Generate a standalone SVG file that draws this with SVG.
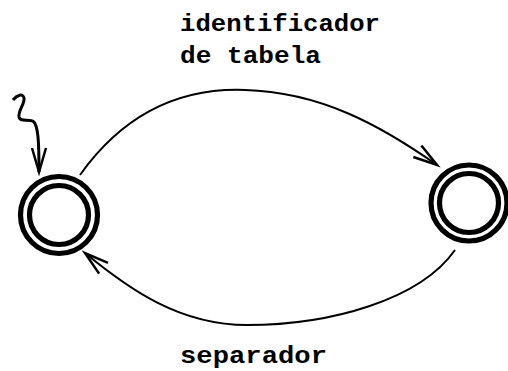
<svg xmlns="http://www.w3.org/2000/svg" width="508" height="371" viewBox="0 0 508 371">
<style>
.ring{fill:none;stroke:#000;stroke-width:5.2}
.edge{fill:none;stroke:#000;stroke-width:2}
.lbl{font-family:"Liberation Mono","DejaVu Sans Mono",monospace;font-size:24px;font-weight:bold;fill:#000}
</style>
<defs>
<marker id="ah" markerUnits="userSpaceOnUse" markerWidth="40" markerHeight="40" viewBox="-30 -15 40 30" refX="0" refY="0" orient="auto">
<path d="M-24,-7 L0,0 L-24,7" fill="none" stroke="#000" stroke-width="2.5"/>
</marker>
</defs>
<rect width="508" height="371" fill="#fff"/>
<g id="connectors">
<path class="edge" style="stroke-width:3" d="M13,100 C17,95 23,93 24,98 C25,104 18,110 19,117 C20,123 30,118 34,122 C38,127 39,140 39,172" marker-end="url(#ah)"/>
<path class="edge" d="M80,175 C130,105 190,88 245,90 C320,92 380,125 437,165" marker-end="url(#ah)"/>
<path class="edge" d="M455,250 C420,300 330,325 247,325 C180,325 130,290 85,253" marker-end="url(#ah)"/>
</g>
<g id="q0">
<circle class="ring" cx="59" cy="215" r="38.5"/>
<circle class="ring" cx="59" cy="215" r="29.5"/>
</g>
<g id="q1">
<circle class="ring" cx="469" cy="203" r="38"/>
<circle class="ring" cx="469" cy="203" r="29.5"/>
</g>
<g id="labels">
<text class="lbl" x="180" y="31" textLength="200" lengthAdjust="spacingAndGlyphs">identificador</text>
<text class="lbl" x="180" y="63" textLength="141" lengthAdjust="spacingAndGlyphs">de tabela</text>
<text class="lbl" x="180" y="363" textLength="147" lengthAdjust="spacingAndGlyphs">separador</text>
</g>
</svg>
